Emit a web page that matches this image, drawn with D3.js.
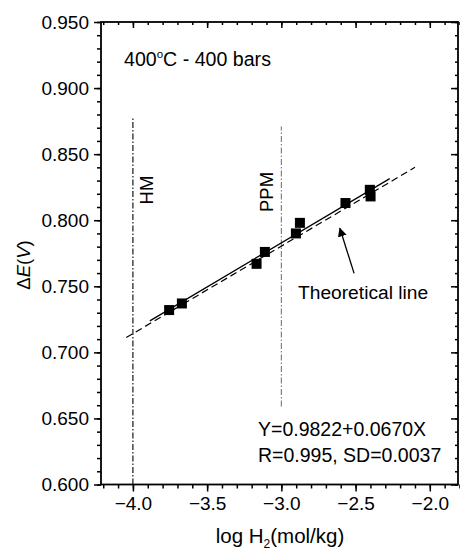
<!DOCTYPE html>
<html>
<head>
<meta charset="utf-8">
<script src="https://cdn.jsdelivr.net/npm/d3@7"></script>
<style>
  body { margin: 0; background: #fff; }
  svg text { font-family: "Liberation Sans", Arial, sans-serif; fill: #000; }
</style>
</head>
<body>
<div id="chart"></div>
<script>
// measured points
const logH = [-3.756, -3.670, -3.167, -3.111, -2.902, -2.875, -2.568, -2.404, -2.399];
const deltaE = [0.732, 0.737, 0.767, 0.776, 0.790, 0.798, 0.813, 0.823, 0.818];

// fitted line (solid) and theoretical line (dashed), end points
const fitX = [-3.886, -2.27];
const fitY = [0.7238, 0.8315];
const theoX = [-4.045, -2.10];
const theoY = [0.7112, 0.8400];

// vertical marker lines
const markers = [
  { name: 'HM', x: -4.0, y: [0.600, 0.878], color: '#000', labelX: 153, labelY: 190 },
  { name: 'PPM', x: -3.0, y: [0.659, 0.871], color: '#777', labelX: 273, labelY: 192 }
];

const xTicks = [-4.0, -3.5, -3.0, -2.5, -2.0];
const yTicks = [0.600, 0.650, 0.700, 0.750, 0.800, 0.850, 0.900, 0.950];

const width = 460, height = 550;
const mLeft = 101, mRight = 458, mTop = 22, mBottom = 484.5;

const svg = d3.select('#chart').append('svg')
  .attr('width', width).attr('height', height);

const x = d3.scaleLinear().domain([-4.215, -1.81]).range([mLeft, mRight]);
const y = d3.scaleLinear().domain([0.6, 0.95]).range([mBottom, mTop]);

const minorX = d3.range(-4.2, -1.79, 0.1).map(v => +v.toFixed(1));
const minorY = d3.range(0.6, 0.951, 0.01).map(v => +v.toFixed(2));

// bottom axis
const gx = svg.append('g').attr('transform', `translate(0,${mBottom})`);
gx.call(d3.axisBottom(x).tickValues(minorX).tickSize(4).tickFormat(''));
gx.call(g => g.append('g').call(d3.axisBottom(x).tickValues(xTicks).tickSize(7).tickFormat(d3.format('.1f'))));
// left axis
const gy = svg.append('g').attr('transform', `translate(${mLeft},0)`);
gy.call(d3.axisLeft(y).tickValues(minorY).tickSize(4).tickFormat(''));
gy.call(g => g.append('g').call(d3.axisLeft(y).tickValues(yTicks).tickSize(7).tickFormat(d3.format('.3f'))));
// top axis, ticks inward
const gt = svg.append('g').attr('transform', `translate(0,${mTop})`);
gt.call(d3.axisBottom(x).tickValues(minorX).tickSize(3).tickFormat(''));
gt.call(g => g.append('g').call(d3.axisBottom(x).tickValues(xTicks).tickSize(6).tickFormat('')));
// right axis, ticks inward
const gr = svg.append('g').attr('transform', `translate(${mRight},0)`);
gr.call(d3.axisLeft(y).tickValues(minorY).tickSize(3).tickFormat(''));
gr.call(g => g.append('g').call(d3.axisLeft(y).tickValues(yTicks).tickSize(7).tickFormat('')));

svg.selectAll('.domain').remove();
svg.selectAll('.tick line').attr('stroke', '#000').attr('stroke-width', 1.5);
svg.selectAll('.tick text').attr('font-size', 19).attr('fill', '#000')
  .style('font-family', '"Liberation Sans", Arial, sans-serif');
gx.selectAll('.tick text').attr('y', 12);
gy.selectAll('.tick text').attr('x', -12);

svg.append('rect')
  .attr('x', mLeft).attr('y', mTop)
  .attr('width', mRight - mLeft).attr('height', mBottom - mTop)
  .attr('fill', 'none').attr('stroke', '#000').attr('stroke-width', 1.8);

// vertical dash-dot lines
svg.selectAll('.marker')
  .data(markers)
  .enter().append('line')
  .attr('x1', d => x(d.x)).attr('x2', d => x(d.x))
  .attr('y1', d => y(d.y[0])).attr('y2', d => y(d.y[1]))
  .attr('stroke', d => d.color).attr('stroke-width', 1.1)
  .attr('stroke-dasharray', '6,2,1.5,2');

svg.selectAll('.mlabel')
  .data(markers)
  .enter().append('text')
  .attr('transform', d => `translate(${d.labelX},${d.labelY}) rotate(-90)`)
  .attr('text-anchor', 'middle')
  .attr('font-size', 18.5)
  .text(d => d.name);

const line = d3.line().x(d => x(d[0])).y(d => y(d[1]));

// theoretical line
svg.append('path')
  .attr('d', line(d3.zip(theoX, theoY)))
  .attr('fill', 'none').attr('stroke', '#000').attr('stroke-width', 1.2)
  .attr('stroke-dasharray', '7,4');

// fitted line
svg.append('path')
  .attr('d', line(d3.zip(fitX, fitY)))
  .attr('fill', 'none').attr('stroke', '#000').attr('stroke-width', 1.3);

// points
const sz = 10;
svg.selectAll('.pt')
  .data(d3.zip(logH, deltaE))
  .enter().append('rect')
  .attr('x', d => x(d[0]) - sz / 2).attr('y', d => y(d[1]) - sz / 2)
  .attr('width', sz).attr('height', sz)
  .attr('fill', '#000');

// arrow to theoretical line
svg.append('defs').append('marker')
  .attr('id', 'ah').attr('viewBox', '0 0 10 10')
  .attr('refX', 9).attr('refY', 5)
  .attr('markerWidth', 9).attr('markerHeight', 9)
  .attr('markerUnits', 'userSpaceOnUse')
  .attr('orient', 'auto')
  .append('path').attr('d', 'M0,0L10,5L0,10Z').attr('fill', '#000');

svg.append('line')
  .attr('x1', x(-2.510)).attr('y1', y(0.7598))
  .attr('x2', x(-2.606)).attr('y2', y(0.7939))
  .attr('stroke', '#000').attr('stroke-width', 1.3)
  .attr('marker-end', 'url(#ah)');

svg.append('text')
  .attr('x', 298).attr('y', 299)
  .attr('font-size', 19.2)
  .text('Theoretical line');

// condition label
const cond = svg.append('text').attr('x', 124).attr('y', 66).attr('font-size', 19.6);
cond.append('tspan').text('400');
cond.append('tspan').attr('font-size', 11.5).attr('dy', -8).text('o');
cond.append('tspan').attr('dy', 8).text('C - 400 bars');

// regression text
svg.append('text').attr('x', 258).attr('y', 436).attr('font-size', 19.5)
  .text('Y=0.9822+0.0670X');
svg.append('text').attr('x', 258).attr('y', 462).attr('font-size', 19.5)
  .text('R=0.995, SD=0.0037');

// axis titles
const xt = svg.append('text').attr('x', 280).attr('y', 543)
  .attr('text-anchor', 'middle').attr('font-size', 20.5);
xt.append('tspan').text('log H');
xt.append('tspan').attr('font-size', 12).attr('dy', 5).text('2');
xt.append('tspan').attr('dy', -5).text('(mol/kg)');

const yt = svg.append('text')
  .attr('transform', 'translate(30,265) rotate(-90)')
  .attr('text-anchor', 'middle').attr('font-size', 18.5);
yt.append('tspan').text('Δ');
yt.append('tspan').attr('font-style', 'italic').text('E');
yt.append('tspan').text('(');
yt.append('tspan').attr('font-style', 'italic').text('V');
yt.append('tspan').text(')');
</script>
</body>
</html>
